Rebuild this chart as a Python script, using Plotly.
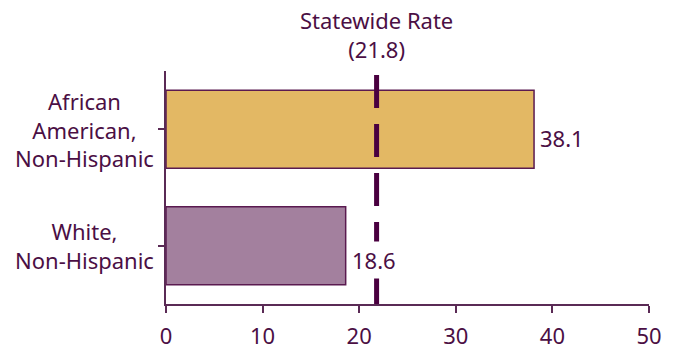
import plotly.graph_objects as go

# Rates by race/ethnicity
groups = ["White,<br>Non-Hispanic", "African<br>American,<br>Non-Hispanic"]
rates = [18.6, 38.1]
bar_colors = ["#A3809E", "#E3B864"]
statewide_rate = 21.8
x_ticks = [0, 10, 20, 30, 40, 50]

INK = "#4B0F44"
FONT = "Noto Sans"
SIZE = 22

fig = go.Figure()
fig.add_trace(go.Bar(
    y=list(range(len(groups))),
    x=rates,
    orientation="h",
    marker=dict(color=bar_colors, line=dict(color="#5A1A50", width=1.5)),
    width=0.67,
    hoverinfo="skip",
))

# Statewide reference line
fig.add_shape(
    type="line", xref="x", yref="paper",
    x0=statewide_rate, x1=statewide_rate, y0=0, y1=1.015,
    line=dict(color="#4A0040", width=5, dash="33px,16px"),
    layer="above",
)
fig.add_annotation(
    x=statewide_rate, xref="x", y=1.02, yref="paper",
    text=f"Statewide Rate<br>({statewide_rate})",
    showarrow=False, yanchor="bottom", align="center",
    font=dict(family=FONT, size=SIZE, color=INK),
)

# Value labels at the bar ends, on a white backing over the reference line
label_drop = [-14, -9]
for i, v in enumerate(rates):
    fig.add_annotation(
        x=v, xref="x", y=i, yref="y",
        text=f"{v}", showarrow=False,
        xanchor="left", yanchor="middle", xshift=2, yshift=label_drop[i],
        bgcolor="white", borderpad=3,
        font=dict(family=FONT, size=SIZE, color=INK),
    )

# Category labels, centered in the left margin
for i, g in enumerate(groups):
    fig.add_annotation(
        x=-0.168, xref="paper", y=i, yref="y",
        text=g, showarrow=False, align="center",
        xanchor="center", yanchor="middle",
        font=dict(family=FONT, size=SIZE, color=INK),
    )

fig.update_xaxes(
    range=[0, 50], tickvals=x_ticks, ticktext=[str(t) for t in x_ticks],
    showgrid=False, zeroline=False, automargin=False,
    showline=True, linecolor="#5A2A55", linewidth=1.5,
    ticks="outside", ticklen=7, tickcolor="#5A2A55", tickwidth=1.5,
    ticklabelstandoff=5,
    tickfont=dict(family=FONT, size=SIZE, color=INK),
)
fig.update_yaxes(
    range=[-0.5, 1.5], tickvals=[0, 1], showticklabels=False,
    showgrid=False, zeroline=False, automargin=False,
    showline=True, linecolor="#5A2A55", linewidth=1.5,
    ticks="outside", tickson="boundaries", ticklen=6,
    tickcolor="#5A2A55", tickwidth=1.5,
)
fig.update_layout(
    width=674, height=351,
    margin=dict(l=166, r=25, t=71, b=47),
    plot_bgcolor="white", paper_bgcolor="white",
    showlegend=False,
)
fig.write_html("out.html")
